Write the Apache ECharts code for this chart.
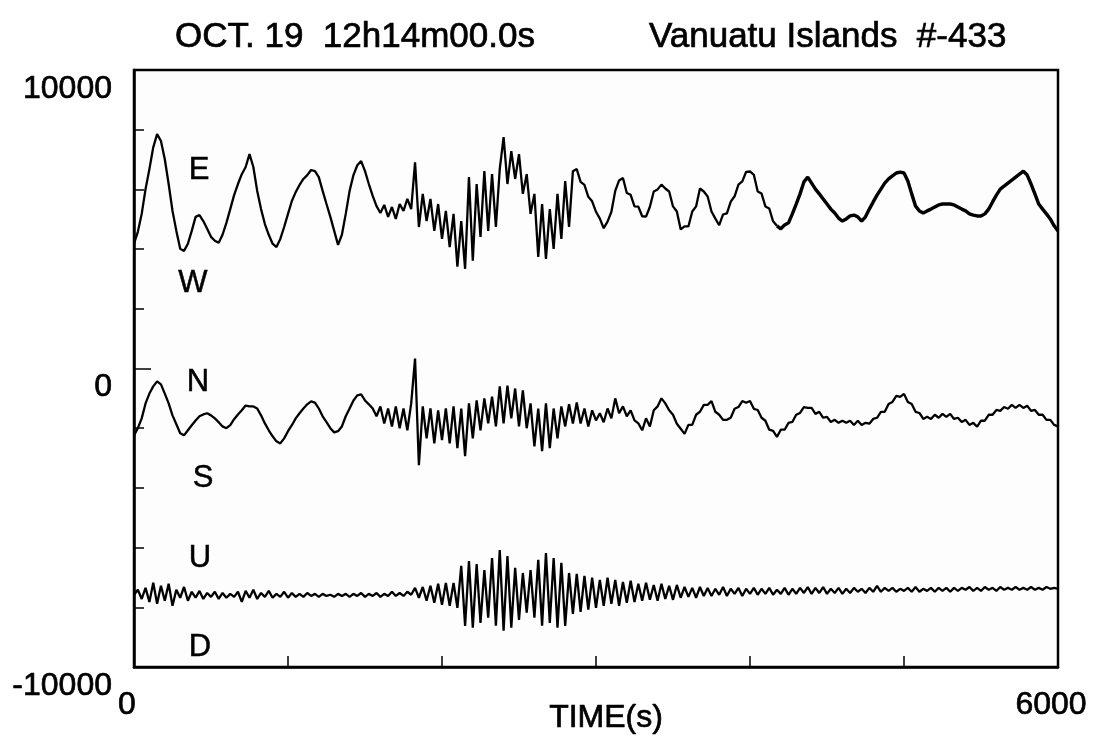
<!DOCTYPE html>
<html>
<head>
<meta charset="utf-8">
<script src="https://cdn.jsdelivr.net/npm/echarts@6/dist/echarts.min.js"></script>
<style>
html,body{margin:0;padding:0;background:#fff;}
#chart{width:1098px;height:749px;}
</style>
</head>
<body>
<div id="chart"></div>
<script>
// sampling interval of the traces (seconds)
const sampleStep = 25;

// East-West component
const ewValues = [
4180,4580,5180,6010,6680,7410,7850,7620,7010,6180,
5280,4610,4010,3940,4180,4610,5080,5140,4940,4680,
4410,4280,4210,4480,4880,5340,5810,6180,6510,6750,
7180,6750,5950,5340,4840,4480,4180,4070,4340,4740,
5180,5610,5910,6150,6350,6480,6650,6610,6410,5950,
5510,5080,4610,4140,4480,5180,5950,6480,6810,6950,
6610,6180,5780,5440,5210,5480,5080,5410,5010,5510,
5280,5680,5340,6910,4740,5850,4940,5680,4610,5510,
4340,5280,4070,5180,3410,4940,3340,6410,3610,6180,
4410,6610,4610,6510,4740,6680,7750,6180,7280,6350,
7180,5850,6510,5180,5850,3740,5510,3670,5340,4010,
5850,4340,6280,4740,6610,6680,6250,6150,5750,5600,
5250,5020,4700,4920,5250,5950,6300,6380,5880,5820,
5430,5420,5100,5090,5420,5930,6000,6160,6030,5930,
5430,5260,4660,4760,4760,5260,5430,6030,5930,5760,
5260,5020,4800,5160,5200,5590,5770,6160,6270,6590,
6600,6490,5930,5860,5430,5360,4930,4780,4680,4810,
4880,5180,5510,5850,6250,6410,6210,6010,5850,5680,
5510,5340,5210,5040,4940,5010,5110,5140,5080,4940,
5080,5340,5580,5810,6010,6210,6350,6450,6550,6580,
6550,6280,5850,5440,5280,5210,5280,5340,5410,5480,
5510,5510,5510,5480,5410,5340,5280,5180,5140,5110,
5110,5180,5340,5580,5810,6010,6110,6210,6310,6410,
6510,6610,6480,6180,5850,5510,5340,5180,5010,4780,
4610
];

// North-South component
const nsValues = [
-2240,-2000,-1670,-1170,-840,-600,-430,-530,-840,-1170,
-1570,-1870,-2170,-2240,-2070,-1900,-1740,-1600,-1540,-1500,
-1570,-1670,-1800,-1940,-2000,-1900,-1700,-1540,-1400,-1240,
-1270,-1270,-1340,-1570,-1840,-2070,-2270,-2440,-2510,-2340,
-2100,-1900,-1670,-1500,-1340,-1200,-1100,-1140,-1340,-1600,
-1800,-2000,-2140,-2100,-1940,-1600,-1340,-1070,-900,-870,
-1070,-1200,-1340,-1600,-1270,-1840,-1340,-1940,-1270,-2000,
-1340,-2070,-1170,330,-3240,-1270,-2340,-1340,-2510,-1400,
-2400,-1340,-2510,-1270,-2670,-1340,-2940,-1170,-2340,-1070,
-2070,-1000,-1840,-940,-1940,-600,-1840,-570,-1670,-670,
-1940,-730,-2000,-1170,-2610,-1340,-2770,-1170,-2670,-1340,
-2340,-1270,-1940,-1200,-1840,-1140,-1840,-1340,-1940,-1400,
-1740,-1500,-1800,-1340,-1670,-1000,-1500,-1270,-1600,-1400,
-1740,-1840,-2070,-1670,-1940,-1400,-1270,-1000,-1170,-1400,
-1550,-1850,-2020,-2190,-1890,-1890,-1550,-1450,-1220,-1220,
-1090,-1450,-1550,-1720,-1720,-1650,-1350,-1290,-1090,-1150,
-1090,-1350,-1390,-1650,-1750,-2050,-2090,-2290,-2050,-2050,
-1820,-1790,-1550,-1490,-1290,-1320,-1320,-1520,-1450,-1650,
-1620,-1790,-1720,-1820,-1750,-1820,-1750,-1890,-1750,-1890,
-1820,-1850,-1690,-1650,-1450,-1450,-1190,-1120,-920,-950,
-850,-1120,-1190,-1450,-1490,-1690,-1620,-1690,-1550,-1650,
-1520,-1620,-1520,-1690,-1650,-1790,-1720,-1890,-1820,-1950,
-1750,-1750,-1550,-1550,-1390,-1420,-1290,-1350,-1220,-1320,
-1220,-1320,-1250,-1420,-1390,-1550,-1550,-1720,-1720,-1890,
-1940
];

// Up-Down component
const udValues = [
-7580,-7410,-7720,-7350,-7820,-7180,-7880,-7280,-7780,-7210,
-7950,-7410,-7680,-7320,-7780,-7480,-7680,-7450,-7720,-7520,
-7650,-7480,-7720,-7520,-7680,-7550,-7650,-7480,-7820,-7450,
-7680,-7410,-7720,-7520,-7650,-7450,-7680,-7550,-7650,-7480,
-7680,-7520,-7650,-7550,-7650,-7520,-7620,-7550,-7650,-7550,
-7620,-7580,-7650,-7550,-7620,-7550,-7650,-7550,-7620,-7520,
-7650,-7550,-7620,-7520,-7650,-7550,-7620,-7480,-7620,-7520,
-7620,-7480,-7580,-7350,-7680,-7320,-7780,-7280,-7850,-7210,
-7920,-7180,-7950,-7180,-8020,-6610,-8620,-6450,-8680,-6550,
-8520,-6750,-8350,-6350,-8620,-6080,-8780,-6280,-8680,-6680,
-8420,-6850,-8180,-6750,-8350,-6410,-8620,-6180,-8520,-6350,
-8680,-6510,-8620,-6850,-8220,-6880,-8150,-6950,-8080,-7010,
-8020,-7080,-7950,-7010,-7880,-7080,-7950,-7150,-7850,-7110,
-7820,-7210,-7780,-7180,-7750,-7250,-7780,-7210,-7720,-7280,
-7750,-7250,-7680,-7320,-7650,-7350,-7680,-7320,-7620,-7350,
-7620,-7380,-7580,-7320,-7620,-7380,-7550,-7350,-7620,-7380,
-7550,-7350,-7580,-7380,-7550,-7350,-7580,-7410,-7550,-7350,
-7580,-7380,-7550,-7350,-7520,-7320,-7550,-7350,-7520,-7320,
-7550,-7380,-7520,-7350,-7550,-7380,-7520,-7350,-7480,-7380,
-7520,-7350,-7480,-7280,-7480,-7350,-7450,-7350,-7480,-7380,
-7450,-7350,-7480,-7320,-7480,-7380,-7450,-7350,-7480,-7350,
-7450,-7350,-7480,-7350,-7450,-7350,-7410,-7320,-7450,-7350,
-7450,-7320,-7410,-7350,-7450,-7320,-7410,-7350,-7410,-7320,
-7410,-7350,-7410,-7320,-7410,-7350,-7410,-7320,-7380,-7350,
-7380
];

// time (s) from which the E-W trace was re-inked by hand (thicker stroke)
const ewInkedFrom = 4175;

const xTickLabels = [0, 6000];
const yTickLabels = [-10000, 0, 10000];
const titleLeft = 'OCT. 19  12h14m00.0s';
const titleRight = 'Vanuatu Islands  #-433';
const xName = 'TIME(s)';
const channelLabels = [
  {text:'E', x:199, y:170}, {text:'W', x:193, y:283},
  {text:'N', x:198, y:382}, {text:'S', x:203, y:478},
  {text:'U', x:200, y:558}, {text:'D', x:200, y:647}
];

const FONT = '"Liberation Sans", Arial, sans-serif';
function toPairs(vals){ return vals.map((v,i)=>[i*sampleStep, v]); }

const ewPairs = toPairs(ewValues);
const chart = echarts.init(document.getElementById('chart'), null, {renderer:'canvas'});
const lineStyle = {color:'#000', width:2.3};
const ink = {textBorderColor:'#000', textBorderWidth:0.7};
const option = {
  animation:false,
  backgroundColor:'#fff',
  grid:{left:134, right:40, top:70, bottom:82, show:true, borderColor:'#000', borderWidth:2.5, backgroundColor:'#fdfdfd'},
  xAxis:{
    type:'value', min:0, max:6000, interval:1000,
    axisLine:{onZero:false, lineStyle:{color:'#000', width:2.5}},
    axisTick:{inside:true, length:11, lineStyle:{color:'#000', width:1.5}},
    splitLine:{show:false},
    axisLabel:Object.assign({
      color:'#000', fontFamily:FONT, fontSize:32, margin:22, padding:[0,14,0,0],
      formatter:v => xTickLabels.includes(v) ? String(v) : ''
    }, ink)
  },
  yAxis:[{
    type:'value', min:-10000, max:10000, interval:2000,
    axisLine:{onZero:false, lineStyle:{color:'#000', width:2.5}},
    axisTick:{inside:true, length:10, lineStyle:{color:'#000', width:1.5}},
    splitLine:{show:false},
    axisLabel:Object.assign({
      color:'#000', fontFamily:FONT, fontSize:32, margin:22, verticalAlign:'top', padding:[3,0,0,0],
      formatter:v => yTickLabels.includes(v) ? String(v) : ''
    }, ink)
  },{
    type:'value', min:-10000, max:10000, interval:10000, position:'left',
    axisLine:{show:false},
    axisTick:{inside:true, length:17, lineStyle:{color:'#000', width:1.5}},
    axisLabel:{show:false}, splitLine:{show:false}
  }],
  series:[
    {name:'E-W', type:'line', data:ewPairs.filter(p=>p[0]<=ewInkedFrom), showSymbol:false, lineStyle, silent:true},
    {name:'E-W inked', type:'line', data:ewPairs.filter(p=>p[0]>=ewInkedFrom), showSymbol:false, lineStyle:{color:'#000', width:3.4}, silent:true},
    {name:'N-S', type:'line', data:toPairs(nsValues), showSymbol:false, lineStyle, silent:true},
    {name:'U-D', type:'line', data:toPairs(udValues), showSymbol:false, lineStyle, silent:true}
  ],
  graphic:[
    {type:'text', x:175, y:37, style:{text:titleLeft, font:'35px '+FONT, fill:'#000', stroke:'#000', lineWidth:0.7, verticalAlign:'middle'}},
    {type:'text', x:649, y:37, style:{text:titleRight, font:'35px '+FONT, fill:'#000', stroke:'#000', lineWidth:0.7, verticalAlign:'middle'}},
    {type:'text', x:606, y:718, style:{text:xName, font:'32px '+FONT, fill:'#000', stroke:'#000', lineWidth:0.7, align:'center', verticalAlign:'middle'}}
  ].concat(channelLabels.map(c => ({type:'text', x:c.x, y:c.y, style:{text:c.text, font:'31px '+FONT, fill:'#000', stroke:'#000', lineWidth:0.5, align:'center', verticalAlign:'middle'}})))
};
chart.setOption(option);
</script>
</body>
</html>
